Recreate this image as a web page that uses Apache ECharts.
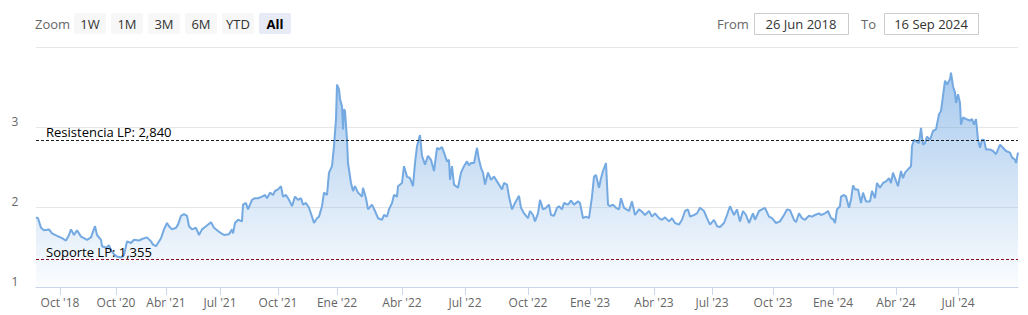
<!DOCTYPE html>
<html><head><meta charset="utf-8">
<script src="https://cdn.jsdelivr.net/npm/echarts@6/dist/echarts.min.js"></script>
<style>html,body{margin:0;padding:0;background:#fff}#c{width:1028px;height:315px}</style>
</head><body><div id="c"></div>
<script>
// ordinal observation number (Highstock ordinal axis) for each reading
const obsIndex = [
0,2,5,8,13,16,21,26,30,33,35,38,41,45,48,51,55,59,61,65,66,70,73,75,78,81,85,88,91,95,98,103,106,111,115,117,120,122,125,128,131,133,136,140,142,145,148,151,153,156,160,163,166,170,175,178,183,188,193,196,
197,199,202,206,207,210,212,216,219,222,226,229,231,234,237,239,242,245,247,250,253,256,259,262,265,267,270,273,276,278,281,283,286,288,291,293,296,298,300,301,303,304,306,307,308,309,311,312,315,317,319,322,326,327,330,332,336,339,342,346,348,351,353,356,358,361,362,366,368,371,374,377,379,381,384,386,389,392,
395,398,401,403,406,408,411,413,414,416,418,422,425,428,431,433,435,438,441,443,445,447,449,452,455,458,461,463,466,468,471,473,476,479,483,485,488,492,494,497,499,502,504,507,510,513,515,518,521,523,526,528,532,535,538,542,544,547,550,553,556,558,560,563,565,567,570,572,574,577,580,583,585,588,
593,596,599,603,606,609,613,616,619,623,626,629,633,636,639,643,646,649,652,654,658,661,664,668,671,674,678,681,684,688,691,694,698,701,704,707,710,713,717,719,723,726,729,733,736,740,744,748,751,754,758,760,763,766,769,773,776,779,783,785,
789,792,795,797,799,801,804,805,808,810,813,815,817,819,822,825,827,830,834,836,839,841,844,847,850,853,855,857,859,862,865,867,869,872,875,876,878,880,883,885,887,889,891,894,897,900,903,905,907,909,911,914,915,917,919,920,922,924,925,927,930,934,936,938,940,942,944,946,948,950,954,957,960,964,967,970,974,976,979,980,982
];
const ratio = [
1.87,1.86,1.74,1.71,1.72,1.67,1.64,1.61,1.58,1.65,1.72,1.65,1.71,1.63,1.61,1.59,1.62,1.76,1.65,1.59,1.51,1.49,1.52,1.46,1.41,1.38,1.37,1.40,1.57,1.55,1.59,1.58,1.60,1.62,1.57,1.53,1.51,1.55,1.61,1.72,1.80,1.76,1.72,1.74,1.78,1.89,1.91,1.89,1.76,1.72,1.74,1.65,1.72,1.76,1.81,1.74,1.69,1.65,1.66,1.72,
1.67,1.80,1.84,1.82,2.03,2.05,1.97,2.09,2.11,2.11,2.13,2.15,2.11,2.18,2.15,2.20,2.22,2.26,2.13,2.15,2.09,2.01,2.13,2.09,2.11,2.03,2.05,1.99,1.88,1.80,1.86,1.88,2.01,2.18,2.15,2.43,2.51,2.76,3.10,3.53,3.47,3.35,3.26,2.97,3.22,3.20,2.84,2.55,2.30,2.20,2.26,2.18,2.13,2.24,2.11,1.97,2.03,1.95,1.86,1.84,1.90,1.88,1.97,2.05,2.15,2.13,2.26,2.30,2.51,2.38,2.36,2.26,2.55,2.76,2.90,2.64,2.53,2.64,
2.59,2.45,2.74,2.72,2.75,2.68,2.57,2.59,2.34,2.51,2.28,2.24,2.43,2.51,2.57,2.52,2.55,2.55,2.74,2.59,2.49,2.43,2.28,2.43,2.34,2.38,2.32,2.28,2.22,2.30,2.28,2.13,1.97,2.05,2.14,1.99,1.92,1.86,1.95,1.90,1.82,1.92,2.09,1.97,1.99,2.03,1.90,1.89,1.99,2.01,1.97,2.05,2.03,2.08,2.03,2.07,2.05,1.86,1.88,1.86,2.13,2.38,2.40,2.24,2.36,2.45,2.55,2.03,2.01,2.03,1.99,1.97,2.11,1.99,
1.95,2.07,1.90,1.97,1.94,1.90,1.95,1.88,1.92,1.86,1.84,1.87,1.82,1.86,1.80,1.78,1.84,1.95,1.97,1.88,1.90,1.92,1.99,1.95,1.86,1.78,1.84,1.76,1.75,1.80,1.90,2.01,1.90,1.97,1.82,1.95,1.90,1.80,1.92,1.84,1.95,1.97,1.99,1.88,1.86,1.80,1.82,1.90,1.97,1.96,1.84,1.81,1.92,1.86,1.84,1.89,1.88,1.90,1.92,1.90,
1.92,1.95,1.86,1.85,1.80,1.97,2.01,2.13,2.15,2.13,1.99,2.09,2.27,2.22,2.22,2.05,2.18,2.07,2.07,2.20,2.11,2.30,2.24,2.30,2.32,2.36,2.30,2.43,2.36,2.26,2.45,2.36,2.43,2.47,2.51,2.76,2.84,2.82,2.80,2.99,2.78,2.80,2.88,2.84,2.95,2.97,3.16,3.20,3.39,3.58,3.53,3.60,3.68,3.51,3.43,3.30,3.41,3.30,3.03,3.12,3.10,3.08,3.10,3.03,3.10,2.84,2.74,2.84,2.84,2.72,2.72,2.70,2.66,2.78,2.74,2.70,2.68,2.62,2.59,2.55,2.68
];
const tickIdx = [24,80,130,184,242,301,366,429,492,554,618,676,737,797,860,922];
const tickLabels = ["Oct '18","Oct '20","Abr '21","Jul '21","Oct '21","Ene '22","Abr '22","Jul '22","Oct '22","Ene '23","Abr '23","Jul '23","Oct '23","Ene '24","Abr '24","Jul '24"];
const levelNames = ['Resistencia LP: 2,840','Soporte LP: 1,355'];
const levelValues = [2.84, 1.355];
const zoomButtons = ['1W','1M','3M','6M','YTD','All'];
const selectedButton = 'All';
const dateFrom = '26 Jun 2018';
const dateTo = '16 Sep 2024';

const FONT = "'Open Sans', sans-serif";
const levelColors = ['#1e1e1e', '#8b0a1a'];

const chart = echarts.init(document.getElementById('c'), null, {renderer: 'svg'});

const graphics = [];
graphics.push({type:'text', x:35, y:24, style:{text:'Zoom', fontSize:13, fontFamily:FONT, fill:'#666', align:'left', verticalAlign:'middle', textAlign:'left', textVerticalAlign:'middle'}});
zoomButtons.forEach((b, i) => {
  const x = 74 + i * 37;
  const sel = b === selectedButton;
  graphics.push({type:'rect', shape:{x:x, y:13, width:32, height:21, r:2}, style:{fill: sel ? '#e6ebf5' : '#f7f7f7'}});
  graphics.push({type:'text', x:x + 16, y:24, style:{text:b, fontSize:13, fontFamily:FONT, fontWeight: sel ? 'bold' : 'normal', fill: sel ? '#000' : '#333', align:'center', verticalAlign:'middle', textAlign:'center', textVerticalAlign:'middle'}});
});
graphics.push({type:'text', x:717, y:24, style:{text:'From', fontSize:13, fontFamily:FONT, fill:'#666', align:'left', verticalAlign:'middle', textAlign:'left', textVerticalAlign:'middle'}});
graphics.push({type:'rect', shape:{x:754.5, y:13.5, width:94, height:21}, style:{fill:'#fff', stroke:'#cccccc', lineWidth:1}});
graphics.push({type:'text', x:801, y:24, style:{text:dateFrom, fontSize:13, fontFamily:FONT, fill:'#333', align:'center', verticalAlign:'middle', textAlign:'center', textVerticalAlign:'middle'}});
graphics.push({type:'text', x:861, y:24, style:{text:'To', fontSize:13, fontFamily:FONT, fill:'#666', align:'left', verticalAlign:'middle', textAlign:'left', textVerticalAlign:'middle'}});
graphics.push({type:'rect', shape:{x:884.5, y:13.5, width:94, height:21}, style:{fill:'#fff', stroke:'#cccccc', lineWidth:1}});
graphics.push({type:'text', x:931, y:24, style:{text:dateTo, fontSize:13, fontFamily:FONT, fill:'#333', align:'center', verticalAlign:'middle', textAlign:'center', textVerticalAlign:'middle'}});

const tickLabelMap = {};
tickIdx.forEach((t, i) => { tickLabelMap[t] = tickLabels[i]; });

chart.setOption({
  animation: false,
  textStyle: {fontFamily: FONT},
  graphic: graphics,
  grid: {left: 36, right: 10, top: 47, bottom: 28},
  xAxis: {
    type: 'value', min: 0, max: 982,
    splitLine: {show: false},
    axisLine: {show: true, lineStyle: {color: '#ccd6eb'}},
    axisTick: {show: true, customValues: tickIdx, length: 8, lineStyle: {color: '#ccd6eb'}},
    axisLabel: {customValues: tickIdx, formatter: v => tickLabelMap[v] || '', color: '#666', fontSize: 12, fontFamily: FONT, margin: 9}
  },
  yAxis: {
    type: 'value', min: 1, max: 4, interval: 1,
    axisLine: {show: false}, axisTick: {show: false},
    splitLine: {show: true, lineStyle: {color: '#e6e6e6'}},
    axisLabel: {showMaxLabel: false, color: '#666', fontSize: 12, fontFamily: FONT, align: 'center', verticalAlign: 'bottom', margin: 21}
  },
  series: [{
    type: 'line',
    data: obsIndex.map((x, i) => [x, ratio[i]]),
    symbol: 'none', showSymbol: false,
    lineStyle: {color: '#74a9e1', width: 2},
    areaStyle: {origin: 'start', color: new echarts.graphic.LinearGradient(0, 0, 0, 1, [
      {offset: 0, color: 'rgba(108,165,226,0.85)'},
      {offset: 1, color: 'rgba(108,165,226,0.04)'}
    ])},
    markLine: {
      silent: true, symbol: 'none', animation: false,
      data: levelValues.map((v, i) => ({
        yAxis: v, name: levelNames[i],
        lineStyle: {color: levelColors[i], type: [3, 2], width: 1},
        label: {show: true, position: 'insideStartTop', formatter: '{b}', color: '#000', fontSize: 13, fontFamily: FONT, distance: [10, 1]}
      }))
    }
  }]
});
</script>
</body></html>
